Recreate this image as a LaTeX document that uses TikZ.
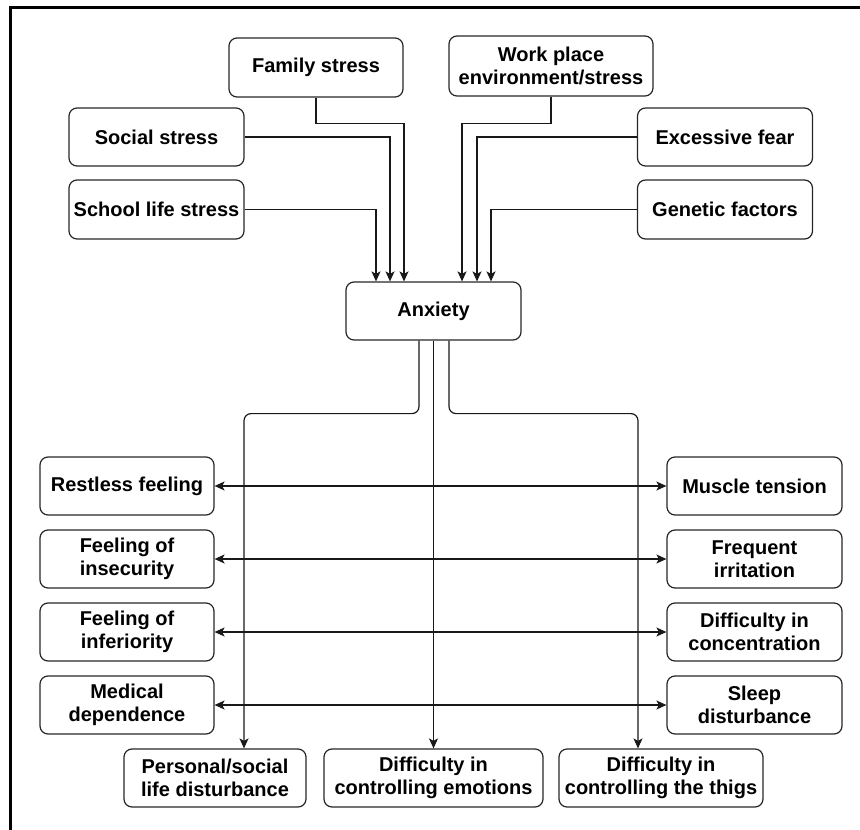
\documentclass[tikz,border=0pt]{standalone}
\usepackage{fontspec}
\setmainfont{Liberation Sans}
\usetikzlibrary{arrows.meta,calc}
\begin{document}
\begin{tikzpicture}[x=1pt,y=-1pt,
  box/.style={draw=black!85, line width=1.2pt, rounded corners=8pt, inner sep=0pt,
    minimum height=58pt, align=center, font=\fontsize{20}{23}\selectfont\bfseries},
  arr/.style={draw=black!90, line width=1.2pt, -{Stealth[length=10pt,width=9pt,inset=2.5pt]}},
  biarr/.style={draw=black!90, line width=1.2pt, {Stealth[length=10pt,width=9pt,inset=2.5pt]}-{Stealth[length=10pt,width=9pt,inset=2.5pt]}},
  frame/.style={draw=black, line width=3pt}]
\useasboundingbox (0,0) rectangle (860,830);
\draw[frame] (10,830) -- (10,7) -- (860,7);
% causes
\node[box, minimum width=174pt, minimum height=59pt] (fam) at (316,67.5) {Family stress};
\node[box, minimum width=204pt, minimum height=60pt] (work) at (551,66) {Work place\\environment/stress};
\node[box, minimum width=175pt] (soc) at (156.5,137) {Social stress};
\node[box, minimum width=175pt] (fear) at (725,137) {Excessive fear};
\node[box, minimum width=175pt, minimum height=59pt] (school) at (156.5,209.5) {School life stress};
\node[box, minimum width=175pt, minimum height=59pt] (gen) at (725,209.5) {Genetic factors};
% center
\node[box, minimum width=175pt] (anx) at (433.5,311) {Anxiety};
% symptoms left
\node[box, minimum width=174pt] (rest) at (127,486) {Restless feeling};
\node[box, minimum width=174pt] (insec) at (127,559) {Feeling of\\insecurity};
\node[box, minimum width=174pt] (infer) at (127,632) {Feeling of\\inferiority};
\node[box, minimum width=174pt] (med) at (127,705) {Medical\\dependence};
% symptoms right
\node[box, minimum width=175pt] (mus) at (754.5,486) {Muscle tension};
\node[box, minimum width=175pt] (irr) at (754.5,559) {Frequent\\irritation};
\node[box, minimum width=175pt] (conc) at (754.5,632) {Difficulty in\\concentration};
\node[box, minimum width=175pt] (sleep) at (754.5,705) {Sleep\\disturbance};
% bottom
\node[box, minimum width=182pt] (pers) at (215,778) {Personal/social\\life disturbance};
\node[box, minimum width=219pt] (emo) at (433.5,778) {Difficulty in\\controlling emotions};
\node[box, minimum width=204pt] (thig) at (661,778) {Difficulty in\\controlling the thigs};
% inputs to anxiety
\draw[arr] (fam.south) -- ++(0,26) -| ([xshift=-29.5pt]anx.north);
\draw[arr] (soc.east) -| ([xshift=-43.5pt]anx.north);
\draw[arr] (school.east) -| ([xshift=-57.5pt]anx.north);
\draw[arr] (work.south) -- ++(0,27) -| ([xshift=28.5pt]anx.north);
\draw[arr] (fear.west) -| ([xshift=43.5pt]anx.north);
\draw[arr] (gen.west) -| ([xshift=57.5pt]anx.north);
% outputs from anxiety
\draw[arr, rounded corners=7pt] ([xshift=-14.5pt]anx.south) -- ++(0,73) -| ([xshift=29pt]pers.north);
\draw[arr] (anx.south) -- (emo.north);
\draw[arr, rounded corners=7pt] ([xshift=15.5pt]anx.south) -- ++(0,73) -| ([xshift=-23pt]thig.north);
% bidirectional
\draw[biarr] (rest.east) -- (mus.west);
\draw[biarr] (insec.east) -- (irr.west);
\draw[biarr] (infer.east) -- (conc.west);
\draw[biarr] (med.east) -- (sleep.west);
\end{tikzpicture}
\end{document}
